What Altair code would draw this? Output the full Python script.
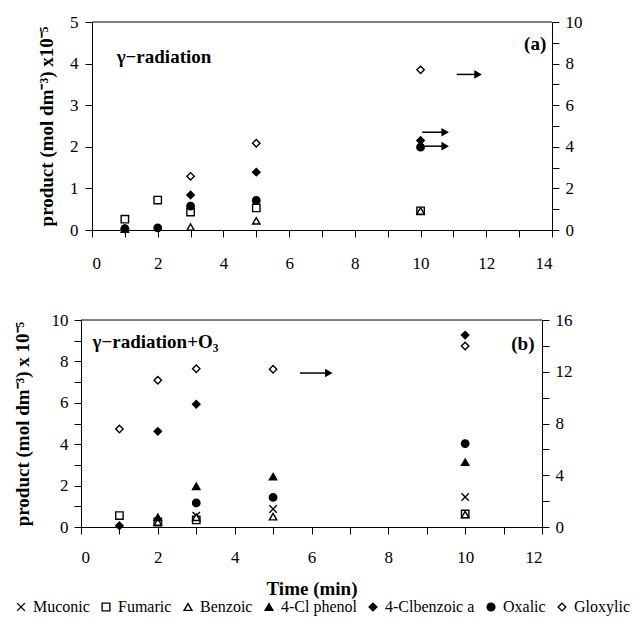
import altair as alt
import pandas as pd

# ---------------- data ----------------
times = [1, 2, 3, 5, 10]
series = ["Muconic", "Fumaric", "Benzoic", "4-Cl phenol", "4-Clbenzoic a", "Oxalic", "Gloxylic"]
shapes = ["M-1,-1L1,1M-1,1L1,-1", "square", "triangle-up", "triangle-up", "diamond", "circle", "diamond"]
fills = ["white", "white", "white", "black", "black", "black", "white"]
strokes = ["black"] * 7

# panel (a) gamma-radiation : left axis (0-5)
a_fumaric = [0.26, 0.72, 0.43, 0.53, 0.46]
a_benzoic = [0.02, None, 0.07, 0.22, 0.46]
# panel (a) : right axis (0-10)
a_clbenzoic = [0.05, None, 1.68, 2.78, 4.30]
a_oxalic = [0.07, 0.10, 1.15, 1.42, 3.98]
a_gloxylic = [None, None, 2.58, 4.17, 7.70]

# panel (b) gamma-radiation + O3 : left axis (0-10)
b_muconic = [None, None, 0.55, 0.87, 1.45]
b_fumaric = [0.55, 0.24, 0.34, None, 0.63]
b_benzoic = [None, 0.24, 0.47, 0.50, 0.60]
b_clphenol = [None, 0.47, 1.97, 2.43, 3.13]
b_clbenzoic = [0.06, 4.62, 5.93, None, 9.27]
b_oxalic = [None, None, 1.16, 1.43, 4.03]
# panel (b) : right axis (0-16)
b_gloxylic = [7.57, 11.34, 12.23, 12.19, 13.99]

# arrows pointing to the right-hand axis (x start, x end, y on right axis)
a_arrow_x0 = [11.10, 10.05, 10.05]
a_arrow_x1 = [11.75, 10.75, 10.75]
a_arrow_y = [7.48, 4.70, 4.03]
b_arrow_x0 = [5.70]
b_arrow_x1 = [6.45]
b_arrow_y = [11.90]

# panel labels (x, y on left axis)
a_labels = ["γ−radiation", "(a)"]
a_label_x = [0.75, 13.15]
a_label_y = [4.15, 4.47]
b_labels = ["γ−radiation+O₃", "(b)"]
b_label_x = [0.30, 11.20]
b_label_y = [8.94, 8.84]


def long(dct):
    rows = []
    for name, vals in dct.items():
        for t, v in zip(times, vals):
            if v is not None:
                rows.append({"t": t, "v": v, "series": name})
    return pd.DataFrame(rows)


a_left = long({"Fumaric": a_fumaric, "Benzoic": a_benzoic})
a_right = long({"4-Clbenzoic a": a_clbenzoic, "Oxalic": a_oxalic, "Gloxylic": a_gloxylic})
b_left = long({"Muconic": b_muconic, "Fumaric": b_fumaric, "Benzoic": b_benzoic,
               "4-Cl phenol": b_clphenol, "4-Clbenzoic a": b_clbenzoic, "Oxalic": b_oxalic})
b_right = long({"Gloxylic": b_gloxylic})

a_arrows = pd.DataFrame({"x0": a_arrow_x0, "x1": a_arrow_x1, "y": a_arrow_y})
b_arrows = pd.DataFrame({"x0": b_arrow_x0, "x1": b_arrow_x1, "y": b_arrow_y})
a_text = pd.DataFrame({"x": a_label_x, "y": a_label_y, "label": a_labels})
b_text = pd.DataFrame({"x": b_label_x, "y": b_label_y, "label": b_labels})

FONT = "Liberation Serif"

LEG = alt.Legend(orient="none", legendX=-68, legendY=577, direction="horizontal", columns=7,
                 title=None, labelFont=FONT, labelFontSize=16, labelColor="black",
                 symbolSize=60, symbolStrokeColor="black", symbolStrokeWidth=1.4,
                 columnPadding=8, labelOffset=4)


def panel(left_df, right_df, arrows_df, text_df, xmax, ldom, lvals, lmod, rdom, rvals, rmod,
          ytitle, xtitle, width, height, shift, ytitle_pad, ylabel_pad, xlabel_pad):
    xaxis = alt.Axis(values=list(range(xmax + 1)),
                     labelExpr="datum.value % 2 === 0 ? datum.label : ''",
                     title=xtitle, labelPadding=xlabel_pad, titlePadding=14)
    xsc = alt.Scale(domain=[0, xmax], nice=False, zero=True, range=[shift, width])

    def X(field):
        return alt.X(field, type="quantitative", scale=xsc, axis=xaxis)

    lsc = alt.Scale(domain=ldom, nice=False)
    rsc = alt.Scale(domain=rdom, nice=False)
    shp = alt.Shape("series:N", scale=alt.Scale(domain=series, range=shapes), legend=LEG)
    fil = alt.Fill("series:N", scale=alt.Scale(domain=series, range=fills), legend=LEG)
    stk = alt.Stroke("series:N", scale=alt.Scale(domain=series, range=strokes), legend=LEG)

    left_pts = alt.Chart(left_df).mark_point(filled=True, size=55, strokeWidth=1.4,
                                             opacity=1).encode(
        x=X("t"),
        y=alt.Y("v:Q", scale=lsc,
                axis=alt.Axis(orient="left", values=lvals, offset=-shift, format="d",
                              labelExpr=f"datum.value % {lmod} === 0 ? datum.label : ''",
                              title=ytitle, titlePadding=ytitle_pad, labelPadding=ylabel_pad)),
        shape=shp, fill=fil, stroke=stk)
    right_pts = alt.Chart(right_df).mark_point(filled=True, size=55, strokeWidth=1.4,
                                               opacity=1).encode(
        x=X("t"),
        y=alt.Y("v:Q", scale=rsc,
                axis=alt.Axis(orient="right", values=rvals, format="d",
                              labelExpr=f"datum.value % {rmod} === 0 ? datum.label : ''",
                              title=None, labelPadding=6)),
        shape=shp, fill=fil, stroke=stk)
    frame = alt.Chart(pd.DataFrame({"x0": [0], "x1": [xmax]})).mark_rule(
        color="black", strokeWidth=1).encode(
        x=X("x0"), x2="x1:Q", y=alt.value(0))
    rule = alt.Chart(arrows_df).mark_rule(color="black", strokeWidth=1.5).encode(
        x=X("x0"), x2="x1:Q", y=alt.Y("y:Q", scale=rsc, axis=None))
    head = alt.Chart(arrows_df).mark_point(shape="triangle-right", filled=True, color="black",
                                           size=75, opacity=1).encode(
        x=X("x1"), y=alt.Y("y:Q", scale=rsc, axis=None))
    text = alt.Chart(text_df).mark_text(font=FONT, fontWeight="bold", fontSize=19, align="left",
                                        baseline="middle", color="black").encode(
        x=X("x"), y=alt.Y("y:Q", scale=lsc, axis=None), text="label:N")
    return alt.layer(left_pts, right_pts, frame, rule, head, text).resolve_scale(
        y="independent").properties(width=width, height=height)


top = panel(a_left, a_right, a_arrows, a_text, 14,
            [0, 5], [i * 0.5 for i in range(11)], 1,
            [0, 10], list(range(11)), 2,
            "product (mol dm⁻³) x10⁻⁵", None, 471, 208, 11, 13, 7, 18)
bottom = panel(b_left, b_right, b_arrows, b_text, 12,
               [0, 10], list(range(11)), 2,
               [0, 16], list(range(0, 17, 2)), 4,
               "product (mol dm⁻³) x 10⁻⁵", "Time (min)", 461, 207, 0, 19, 6, 15)

chart = alt.vconcat(top, bottom, spacing=40).resolve_scale(
    shape="shared", fill="shared", stroke="shared").properties(
    padding={"left": 5, "top": 5, "right": 5, "bottom": 5}, background="white"
).configure_view(stroke=None).configure_axis(
    domainColor="black", tickColor="black", labelColor="black", titleColor="black",
    labelFont=FONT, titleFont=FONT, labelFontSize=17, titleFontSize=19,
    titleFontWeight="bold", grid=False, tickSize=7, domainWidth=1, tickWidth=1)

chart.save("out.html", embed_options={"renderer": "svg", "actions": False})
